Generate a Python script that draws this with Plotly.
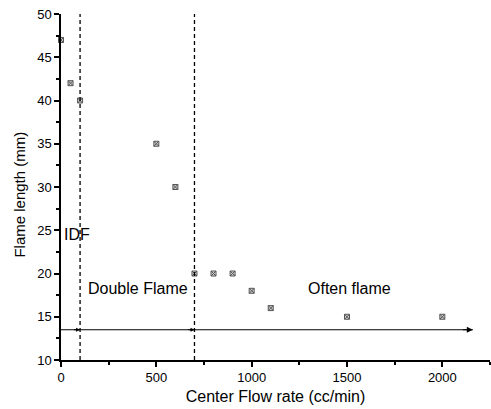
import plotly.graph_objects as go

flow_rate = [0, 50, 100, 500, 600, 700, 800, 900, 1000, 1100, 1500, 2000]
flame_length = [47, 42, 40, 35, 30, 20, 20, 20, 18, 16, 15, 15]

boundaries = [100, 700]
arrow_y = 13.5
arrow_end = 2160

region_labels = ["IDF", "Double Flame", "Often flame"]
region_x = [82, 405, 1515]
region_y = [24.5, 18.3, 18.3]

fig = go.Figure()

fig.add_trace(go.Scatter(
    x=flow_rate, y=flame_length, mode="markers",
    marker=dict(symbol="square-x", size=5, color="#d0d0d0",
                line=dict(color="#555555", width=1)),
    showlegend=False, cliponaxis=False,
))

for b in boundaries:
    fig.add_shape(type="line", x0=b, x1=b, y0=10, y1=50, xref="x", yref="y",
                  line=dict(color="black", width=1.3, dash="4px,3px"))

fig.add_shape(type="line", x0=0, x1=arrow_end, y0=arrow_y, y1=arrow_y,
              xref="x", yref="y", line=dict(color="black", width=1.2))
fig.add_annotation(x=arrow_end, y=arrow_y, ax=arrow_end - 60, ay=arrow_y,
                   xref="x", yref="y", axref="x", ayref="y",
                   showarrow=True, arrowhead=2, arrowsize=1, arrowwidth=1.2,
                   arrowcolor="black", text="")
for b in boundaries:
    fig.add_annotation(x=b, y=arrow_y, ax=b - 40, ay=arrow_y,
                       xref="x", yref="y", axref="x", ayref="y",
                       showarrow=True, arrowhead=2, arrowsize=0.8, arrowwidth=1,
                       arrowcolor="black", text="")

for t, x, y in zip(region_labels, region_x, region_y):
    fig.add_annotation(x=x, y=y, text=t, showarrow=False, xref="x", yref="y",
                       font=dict(size=16, color="#000000", family="Liberation Sans"))

fig.add_annotation(x=-0.0956, y=0.478, xref="paper", yref="paper",
                   xanchor="center", yanchor="middle",
                   text="Flame length (mm)", textangle=-90, showarrow=False,
                   font=dict(size=15, color="black", family="Liberation Sans"))

fig.update_layout(
    width=491, height=409,
    margin=dict(l=61, r=1, t=14, b=49),
    paper_bgcolor="white", plot_bgcolor="white",
    font=dict(family="Liberation Sans", size=13, color="black"),
    showlegend=False,
)
fig.update_xaxes(
    range=[0, 2250], tickvals=[0, 500, 1000, 1500, 2000],
    ticks="outside", ticklen=5, tickwidth=1.5, tickcolor="black",
    minor=dict(tickvals=[250, 750, 1250, 1750, 2250], ticks="outside", ticklen=3, tickcolor="black"),
    showline=True, linecolor="black", linewidth=1.5, showgrid=False, zeroline=False,
    title=dict(text="Center Flow rate (cc/min)", font=dict(size=16), standoff=6),
    tickfont=dict(size=13),
)
fig.update_yaxes(
    range=[10, 50], tickvals=[10, 15, 20, 25, 30, 35, 40, 45, 50],
    ticks="outside", ticklen=5, tickwidth=1.5, tickcolor="black",
    minor=dict(tickvals=[12.5, 17.5, 22.5, 27.5, 32.5, 37.5, 42.5, 47.5], ticks="outside", ticklen=3, tickcolor="black"),
    showline=True, linecolor="black", linewidth=1.5, showgrid=False, zeroline=False,
    tickfont=dict(size=13),
)

fig.write_html("out.html")
